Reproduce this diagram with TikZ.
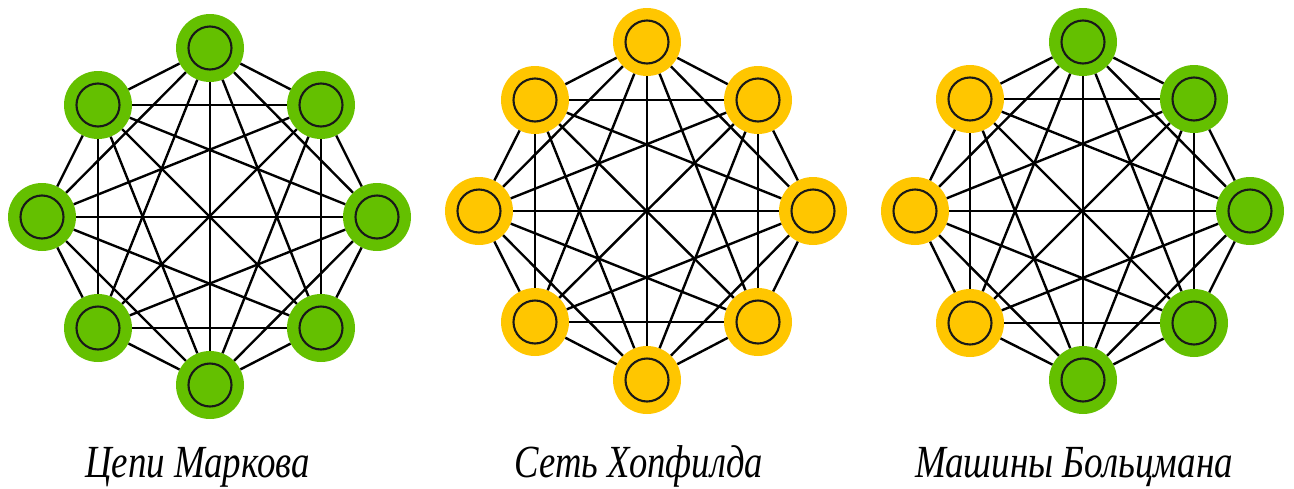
\documentclass[tikz,border=0pt]{standalone}
\usepackage{fontspec}
\usepackage{graphicx}
\setmainfont{Liberation Serif}
\definecolor{gr}{RGB}{100,192,0}
\definecolor{ye}{RGB}{255,198,0}
\tikzset{
  unit/.style={circle, fill=#1, minimum size=68pt, inner sep=0pt,
    path picture={\draw[line width=2.1pt, draw=black!90]
      (path picture bounding box.center) circle (21.5pt);}},
  link/.style={line width=2.4pt, draw=black},
  caption/.style={font=\itshape\fontsize{46}{52}\selectfont, anchor=base, inner sep=0pt}
}
\begin{document}
\begin{tikzpicture}[x=1pt,y=-1pt]
\useasboundingbox (0,0) rectangle (1294,488);
% graph 1 : Markov chains
\node[unit=gr] (a1) at (210,48) {};
\node[unit=gr] (a2) at (321,105) {};
\node[unit=gr] (a3) at (377,217) {};
\node[unit=gr] (a4) at (321,328) {};
\node[unit=gr] (a5) at (210,385) {};
\node[unit=gr] (a6) at (98,328) {};
\node[unit=gr] (a7) at (42,217) {};
\node[unit=gr] (a8) at (98,105) {};
% graph 2 : Hopfield
\node[unit=ye] (b1) at (647,42) {};
\node[unit=ye] (b2) at (758,100) {};
\node[unit=ye] (b3) at (813,211) {};
\node[unit=ye] (b4) at (758,322) {};
\node[unit=ye] (b5) at (647,380) {};
\node[unit=ye] (b6) at (535,322) {};
\node[unit=ye] (b7) at (479,211) {};
\node[unit=ye] (b8) at (535,100) {};
% graph 3 : Boltzmann
\node[unit=gr] (c1) at (1083,42) {};
\node[unit=gr] (c2) at (1194,99) {};
\node[unit=gr] (c3) at (1250,211) {};
\node[unit=gr] (c4) at (1194,323) {};
\node[unit=gr] (c5) at (1083,380) {};
\node[unit=ye] (c6) at (970,323) {};
\node[unit=ye] (c7) at (915,211) {};
\node[unit=ye] (c8) at (970,99) {};
% edges (complete graphs)
\foreach \g in {a,b,c}{
  \foreach \i in {1,...,7}{
    \pgfmathtruncatemacro\nxt{\i+1}
    \foreach \j in {\nxt,...,8}{
      \draw[link] (\g\i) -- (\g\j);
    }
  }
}
% captions
\node[caption] (t1) at (197.5,477) {\resizebox{225pt}{\height}{Цепи Маркова}};
\node[caption] (t2) at (639,477) {\resizebox{248pt}{\height}{Сеть Хопфилда}};
\node[caption] (t3) at (1074,477) {\resizebox{318pt}{\height}{Машины Больцмана}};
\end{tikzpicture}
\end{document}
